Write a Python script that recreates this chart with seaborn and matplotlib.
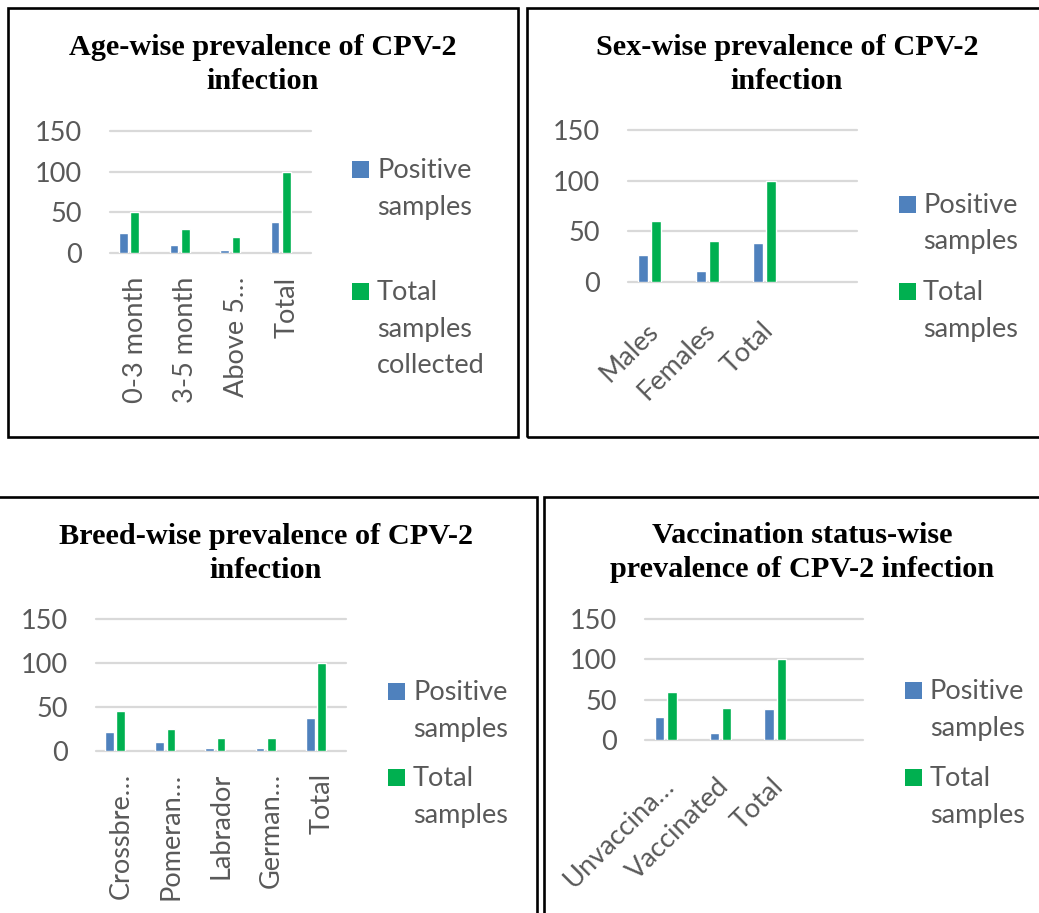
import numpy as np
import pandas as pd
import matplotlib
matplotlib.use("Agg")
import matplotlib.pyplot as plt
import matplotlib.transforms as mtransforms
from matplotlib.patches import Rectangle
import seaborn as sns

sns.set_theme(style='white')
plt.rcParams['font.family'] = ['Lato', 'DejaVu Sans']

# data
series_names = ['Positive samples', 'Total samples']

age_labels = ['0-3 month', '3-5 month', 'Above 5…', 'Total']
age_positive = [24, 10, 4, 38]
age_total = [50, 30, 20, 100]

sex_labels = ['Males', 'Females', 'Total']
sex_positive = [27, 11, 38]
sex_total = [60, 40, 100]

breed_labels = ['Crossbre…', 'Pomeran…', 'Labrador', 'German…', 'Total']
breed_positive = [22, 10, 3, 3, 38]
breed_total = [45, 25, 15, 15, 100]

vacc_labels = ['Unvaccina…', 'Vaccinated', 'Total']
vacc_positive = [29, 9, 38]
vacc_total = [60, 40, 100]

yticks = [0, 50, 100, 150]

W, H = 1039, 913
BLUE = '#4F81BD'
GREEN = '#00B050'
GRID = '#D9D9D9'
TICK = '#595959'
FS = 19.5


def long_table(labels, positive, total):
    return pd.DataFrame({
        'category': labels * 2,
        'count': positive + total,
        'series': [series_names[0]] * len(labels) + [series_names[1]] * len(labels),
    })


def fx(x):
    return x / W


def fy(y):
    return 1 - y / H


fig = plt.figure(figsize=(W / 100, H / 100), dpi=100)

# panel frames (pixel boxes of the pasted charts)
for x0, y0, x1, y1 in [(8, 8, 518, 437), (527, 8, 1050, 437),
                       (-10, 497, 537, 925), (544, 497, 1050, 925)]:
    fig.add_artist(Rectangle((fx(x0), fy(y1)), (x1 - x0) / W, (y1 - y0) / H,
                             transform=fig.transFigure, fill=False,
                             ec='black', lw=1.9))

panels = [
    dict(title=['Age-wise prevalence of CPV-2', 'infection'], title_x=263, title_y=55,
         labels=age_labels, pos=age_positive, tot=age_total,
         box=(110, 131, 311, 253), slots=4, rot=90, pad=17, dx=6,
         legend=[['Positive', 'samples'], ['Total', 'samples', 'collected']],
         sq_x=352, txt_x=377, base=[178, 300]),
    dict(title=['Sex-wise prevalence of CPV-2', 'infection'], title_x=787, title_y=55,
         labels=sex_labels, pos=sex_positive, tot=sex_total,
         box=(628, 130, 857, 282), slots=4, rot=45, pad=26, dx=13,
         legend=[['Positive', 'samples'], ['Total', 'samples']],
         sq_x=899, txt_x=923, base=[213, 300]),
    dict(title=['Breed-wise prevalence of CPV-2', 'infection'], title_x=266, title_y=544,
         labels=breed_labels, pos=breed_positive, tot=breed_total,
         box=(96, 619, 346, 751), slots=5, rot=90, pad=16, dx=6,
         legend=[['Positive', 'samples'], ['Total', 'samples']],
         sq_x=388, txt_x=413, base=[700, 786]),
    dict(title=['Vaccination status-wise', 'prevalence of CPV-2 infection'], title_x=802, title_y=543,
         labels=vacc_labels, pos=vacc_positive, tot=vacc_total,
         box=(645, 619, 863, 740), slots=4, rot=45, pad=24, dx=13,
         legend=[['Positive', 'samples'], ['Total', 'samples']],
         sq_x=905, txt_x=930, base=[699, 786]),
]

for p in panels:
    l, t, r, b = p['box']
    ax = fig.add_axes([fx(l), fy(b), (r - l) / W, (b - t) / H])
    df = long_table(p['labels'], p['pos'], p['tot'])
    sns.barplot(data=df, x='category', y='count', hue='series', order=p['labels'],
                palette=[BLUE, GREEN], saturation=1, width=0.45, gap=0.23,
                legend=False, ax=ax)
    ax.set_xlim(-0.38, p['slots'] - 0.4)
    ax.set_ylim(0, 150)
    ax.set_yticks(yticks)
    ax.set_xlabel('')
    ax.set_ylabel('')
    sns.despine(ax=ax, left=True, bottom=True)
    ax.grid(axis='y', color=GRID, lw=1.6)
    ax.set_axisbelow(True)
    for gl in ax.get_ygridlines():
        gl.set_clip_on(False)
    ax.tick_params(axis='y', length=0, pad=20, labelsize=FS, labelcolor=TICK)
    ax.tick_params(axis='x', length=0, pad=p['pad'], labelsize=FS, labelcolor=TICK)
    shift = mtransforms.ScaledTranslation(p['dx'] / 100, 0, fig.dpi_scale_trans)
    for lab in ax.get_xticklabels():
        lab.set_rotation(p['rot'])
        if p['rot'] == 45:
            lab.set_ha('right')
        lab.set_transform(lab.get_transform() + shift)

    # two-line bold serif title
    for i, line in enumerate(p['title']):
        fig.text(fx(p['title_x']), fy(p['title_y'] + 34 * i), line, ha='center', va='baseline',
                 family='Liberation Serif', weight='bold', fontsize=21.8, color='black')

    # legend drawn Excel-style: square beside the first line of each entry
    for colour, lines, base in zip([BLUE, GREEN], p['legend'], p['base']):
        fig.add_artist(Rectangle((fx(p['sq_x']), fy(base)), 17 / W, 17 / H,
                                 transform=fig.transFigure, color=colour, lw=0))
        for j, line in enumerate(lines):
            fig.text(fx(p['txt_x']), fy(base + 36.5 * j), line, ha='left', va='baseline',
                     fontsize=FS, color=TICK)

fig.savefig('out.png', dpi=100)
